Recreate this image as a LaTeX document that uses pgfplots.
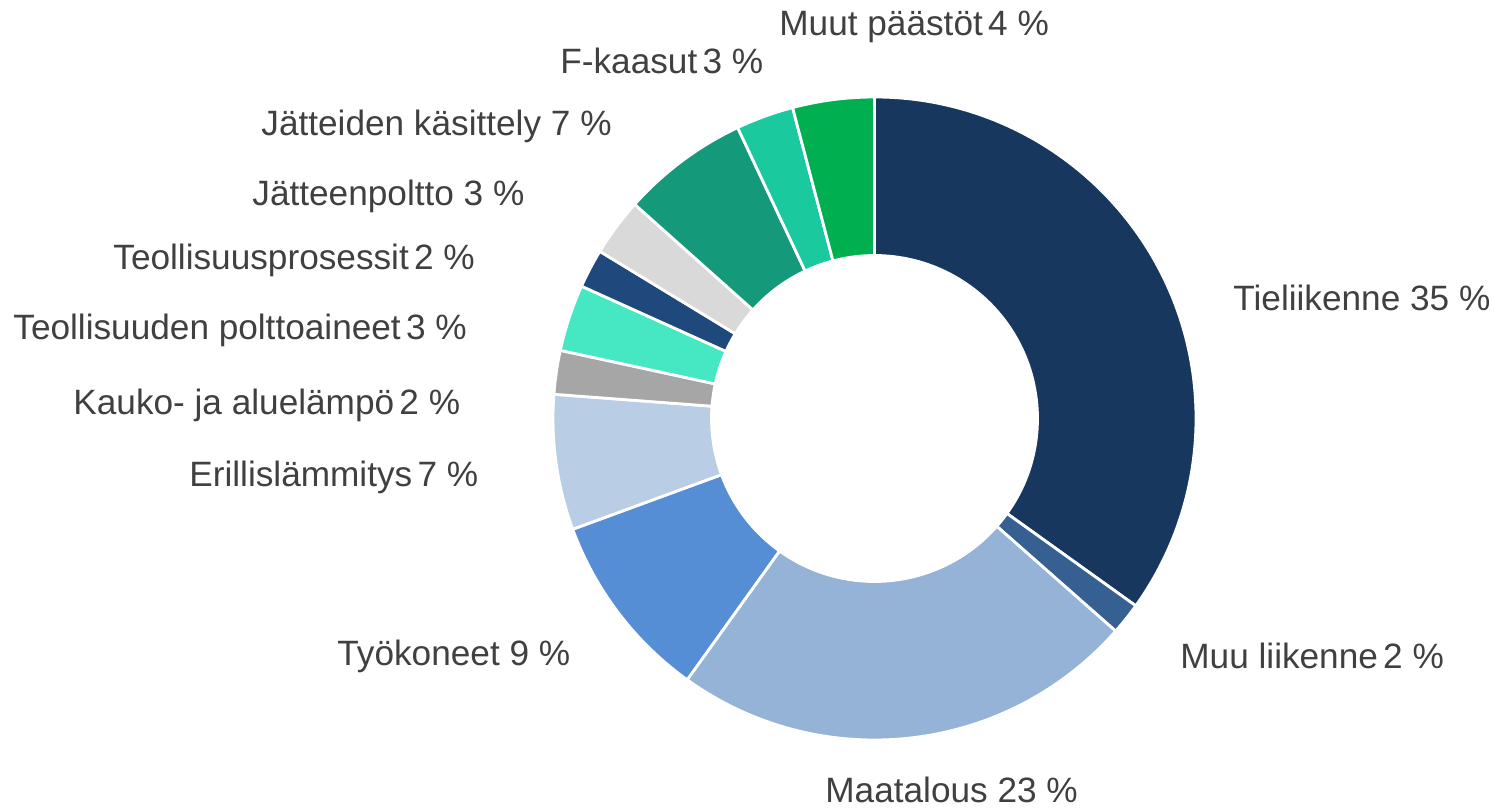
\documentclass[border=0pt]{standalone}
\usepackage{pgfplots}
\pgfplotsset{compat=1.18}
\usepackage{pgfplotstable}
\usepackage{fontspec}
\setmainfont{Liberation Sans}

\definecolor{c0}{HTML}{17375E}
\definecolor{c1}{HTML}{366092}
\definecolor{c2}{HTML}{95B3D7}
\definecolor{c3}{HTML}{558ED5}
\definecolor{c4}{HTML}{B9CDE5}
\definecolor{c5}{HTML}{A6A6A6}
\definecolor{c6}{HTML}{46E8C4}
\definecolor{c7}{HTML}{1F497D}
\definecolor{c8}{HTML}{D9D9D9}
\definecolor{c9}{HTML}{149A7A}
\definecolor{c10}{HTML}{1AC99E}
\definecolor{c11}{HTML}{00B050}
\definecolor{txt}{HTML}{404040}

\tikzset{lbl/.style={anchor=base west, inner sep=0pt, text=txt, font=\fontsize{17.6}{21}\selectfont}}
\newcommand{\sep}{\hspace{0.15em}}

% shares of the ring, clockwise from the top (per cent)
\pgfplotstableread{
idx share
0 34.9
1 1.6
2 23.4
3 9.5
4 6.8
5 2.2
6 3.35
7 1.95
8 2.9
9 6.4
10 2.9
11 4.1
}\emissions

\begin{document}
\begin{tikzpicture}
\path[use as bounding box] (0,0) rectangle (747pt,404.5pt);
\begin{axis}[
  at={(0,0)}, anchor=south west,
  width=747pt, height=404.5pt, scale only axis,
  xmin=0, xmax=1494, ymin=0, ymax=809,
  hide axis, clip=false,
]
\xdef\cum{0}
\pgfplotsinvokeforeach{0,...,11}{
  \pgfplotstablegetelem{#1}{share}\of\emissions
  \pgfmathsetmacro\angA{90-3.6*\cum}
  \pgfmathsetmacro\newcum{\cum+\pgfplotsretval}
  \pgfmathsetmacro\angB{90-3.6*\newcum}
  \xdef\cum{\newcum}
  \edef\temp{\noexpand\fill[c#1, draw=white, line width=1.4pt, line join=round]
     (axis cs:874.5,390.5) ++(\angA:160.75pt)
     arc[start angle=\angA, end angle=\angB, radius=160.75pt]
     -- ++(\angB+180:79.25pt)
     arc[start angle=\angB, end angle=\angA, radius=81.5pt] -- cycle;}
  \temp
}
\node[lbl] at (axis cs:1233,498) {Tieliikenne 35 \%};
\node[lbl] at (axis cs:1180,140) {Muu liikenne\sep2 \%};
\node[lbl] at (axis cs:825,6) {Maatalous 23 \%};
\node[lbl] at (axis cs:337,143) {Työkoneet 9 \%};
\node[lbl] at (axis cs:189,322) {Erillislämmitys\sep7 \%};
\node[lbl] at (axis cs:73,394) {Kauko- ja aluelämpö\sep2 \%};
\node[lbl] at (axis cs:13,469) {Teollisuuden polttoaineet\sep3 \%};
\node[lbl] at (axis cs:113,539) {Teollisuusprosessit\sep2 \%};
\node[lbl] at (axis cs:252,603) {Jätteenpoltto 3 \%};
\node[lbl] at (axis cs:261,673) {Jätteiden käsittely 7 \%};
\node[lbl] at (axis cs:560,735) {F-kaasut\sep3 \%};
\node[lbl] at (axis cs:779,773) {Muut päästöt\sep4 \%};
\end{axis}
\end{tikzpicture}
\end{document}
